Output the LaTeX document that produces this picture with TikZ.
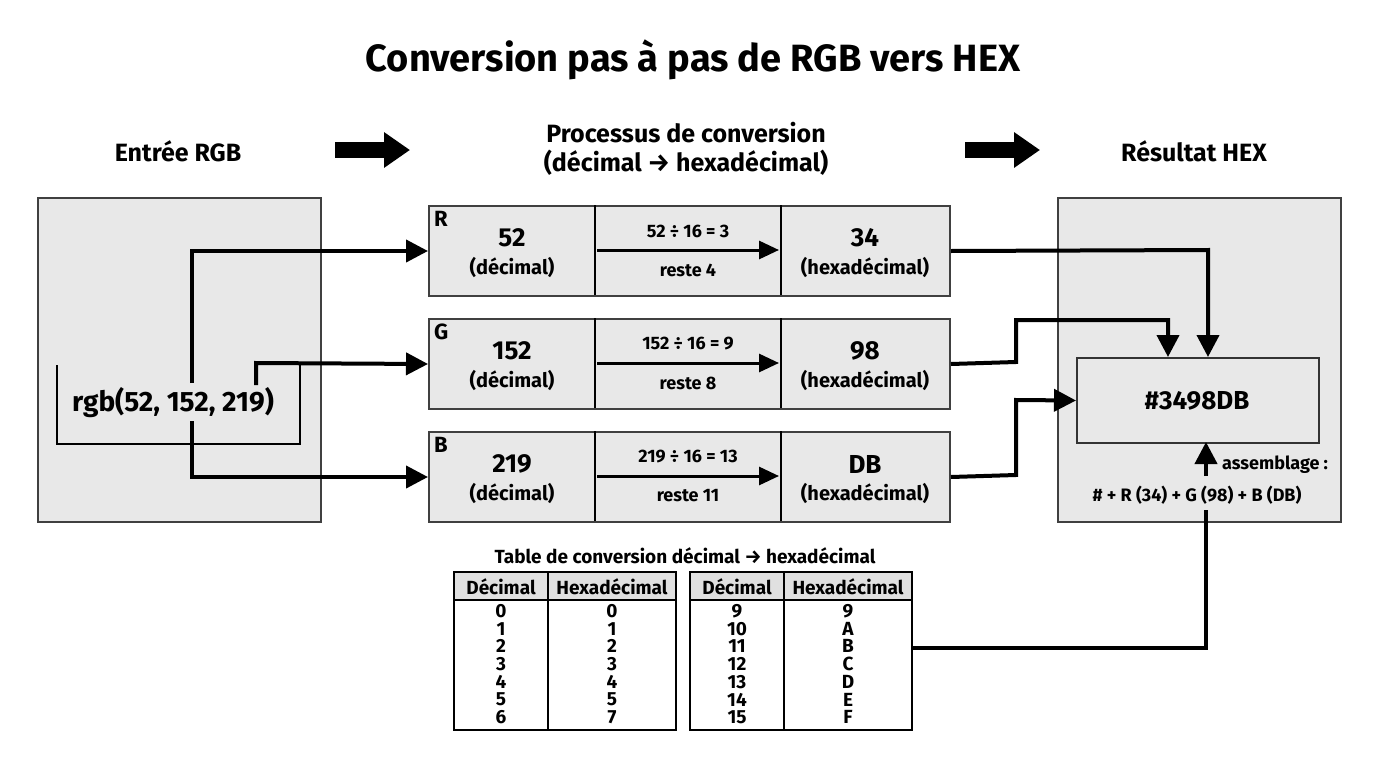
\documentclass[tikz,border=0pt]{standalone}
\usepackage{fontspec}
\setmainfont{Fira Sans}
\usetikzlibrary{arrows.meta}
\tikzset{
 box/.style={draw=black!75,line width=2pt,fill=black!9},
 conn/.style={line width=4pt,-{Triangle[length=22pt,width=22pt]}},
 thin/.style={line width=1.5pt},
 big/.style={arrows={-{Triangle[length=26pt,width=34pt]}},line width=16pt},
 txt/.style={font=\fontsize{#1}{#1}\selectfont\bfseries,inner sep=0pt,align=center},
}
\begin{document}
\begin{tikzpicture}[x=1pt,y=-1pt]
\useasboundingbox (0,0) rectangle (1376,768);
\fill[white] (0,0) rectangle (1376,768);
\node[txt=38] (title) at (693,60) {Conversion pas à pas de RGB vers HEX};
\node[txt=25] (h1) at (178,151) {Entrée RGB};
\node[txt=25] (h2) at (686,149) {Processus de conversion\\[4pt](décimal → hexadécimal)};
\node[txt=25] (h3) at (1194,151) {Résultat HEX};
\coordinate (a1s) at (335,150); \coordinate (a1e) at (410,150);
\coordinate (a2s) at (965,150); \coordinate (a2e) at (1040,150);
\draw[big] (a1s) -- (a1e);
\draw[big] (a2s) -- (a2e);
% left box
\node[box,minimum width=283pt,minimum height=324pt,anchor=north west] (left) at (37,197) {};
\draw[thin] (57,365) -- (57,444) -- (300,444) -- (300,363);
\node[txt=28] (rgb) at (173,403) {rgb(52, 152, 219)};
% rows
\foreach \n/\l/\y/\d/\q/\r/\h in {R/R/205/52/3/4/34, G/G/318/152/9/8/98, B/B/431/219/13/11/DB}{
  \node[box,minimum width=521pt,minimum height=90pt,anchor=north west] (row\n) at (428,\y) {};
  \draw[thin] (595,\y) -- ++(0,90);
  \draw[thin] (781,\y) -- ++(0,90);
  \node[txt=22,anchor=north west] (lab\n) at (434,\y+6) {\l};
  \node[txt=26] (dec\n) at (512,\y+33) {\d};
  \node[txt=20] (decl\n) at (512,\y+62) {(décimal)};
  \node[txt=18] (div\n) at (688,\y+26) {\d\ ÷ 16 = \q};
  \node[txt=18] (rest\n) at (688,\y+65) {reste \r};
  \coordinate (ds\n) at (597,\y+45);
  \coordinate (de\n) at (779,\y+45);
  \draw[line width=3pt,-{Triangle[length=20pt,width=18pt]}] (ds\n) -- (de\n);
  \node[txt=26] (hex\n) at (865,\y+33) {\h};
  \node[txt=20] (hexl\n) at (865,\y+62) {(hexadécimal)};
}
% left connectors
\coordinate (sR) at (192,383); \coordinate (sG) at (256,385); \coordinate (sB) at (192,421);
\draw[conn] (sR) |- (rowR.west);
\draw[conn] (sG) -- (256,363) -- (rowG.west);
\draw[thin] (256,363) -- (300,363);
\draw[conn] (sB) |- (rowB.west);
% right box
\node[box,minimum width=283pt,minimum height=324pt,anchor=north west] (right) at (1057,197) {};
\node[draw=black!80,line width=2pt,fill=black!9,minimum width=242pt,minimum height=85pt,anchor=north west] (res) at (1076,357) {};
\node[txt=26] (hexres) at (1197,401) {\#3498DB};
\draw[conn] (rowR.east) -- (1208,250) -- (1208,357);
\draw[conn] (rowG.east) -- (1016,362) -- (1016,320) -- (1168,320) -- (1168,357);
\draw[conn] (rowB.east) -- (1016,475) -- (1016,400) -- (res.west);
\node[txt=18,anchor=west] (asm) at (1222,465) {assemblage :};
\node[txt=18] (asm2) at (1197,495) {\# + R (34) + G (98) + B (DB)};
\coordinate (as) at (1206,476);
\draw[conn] (as) -- (1206,442);
% table
\node[txt=19] (ttitle) at (685,556) {Table de conversion décimal → hexadécimal};
\foreach \x/\s/\t in {454/548/A,690/784/B}{
  \fill[black!12] (\x,572) rectangle (\x+222,600);
  \draw[line width=2pt] (\x,572) rectangle (\x+222,730);
  \draw[thin] (\x,600) -- (\x+222,600);
  \draw[thin] (\s,572) -- (\s,730);
  \node[txt=19] (hd\t) at ({(\x+\s)/2},587) {Décimal};
  \node[txt=19] (hh\t) at ({(\s+\x+222)/2},587) {Hexadécimal};
}
\coordinate (tblR) at (912,648);
\foreach \a/\b [count=\i from 0] in {0/0,1/1,2/2,3/3,4/4,5/5,6/7}{
  \node[txt=19] (l\i) at (501,{611+17.7*\i}) {\a};
  \node[txt=19] (m\i) at (612,{611+17.7*\i}) {\b};
}
\foreach \a/\b [count=\i from 0] in {9/9,10/A,11/B,12/C,13/D,14/E,15/F}{
  \node[txt=19] (r\i) at (737,{611+17.7*\i}) {\a};
  \node[txt=19] (s\i) at (848,{611+17.7*\i}) {\b};
}
\draw[line width=4pt] (tblR) -- (1206,648) -- (1206,510);
\end{tikzpicture}
\end{document}
